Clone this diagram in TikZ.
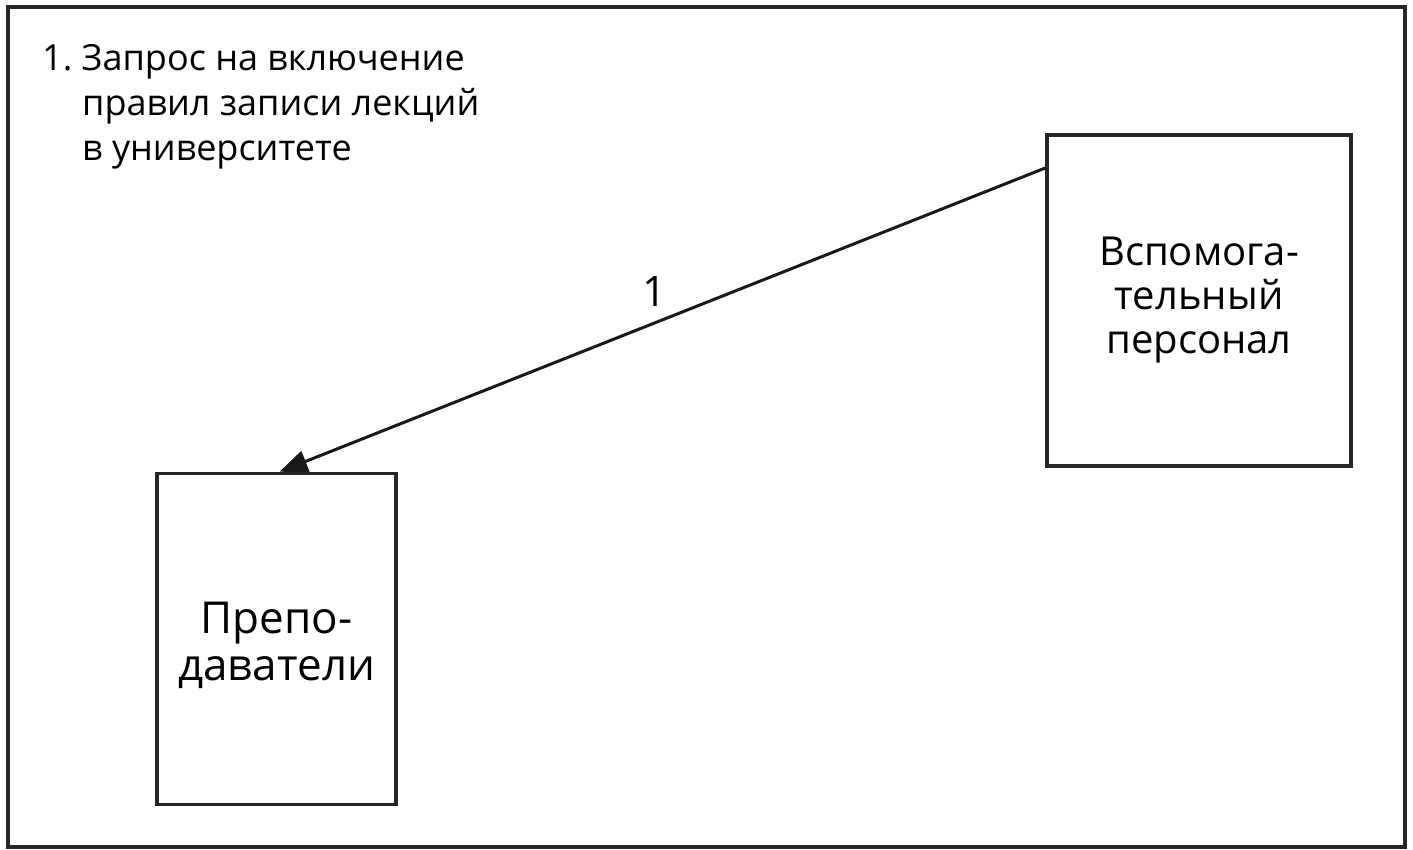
\documentclass[tikz,border=0pt]{standalone}
\usepackage{fontspec}
\setmainfont{Open Sans}
\usetikzlibrary{arrows.meta}
\begin{document}
\begin{tikzpicture}[x=1pt,y=-1pt,
  frame/.style={draw=black!85,line width=4pt},
  entity/.style={draw=black!85,line width=3.5pt,inner sep=0pt,align=center},
  flow/.style={draw=black!90,line width=3pt,-{Triangle[length=28pt,width=22pt]}}]
\useasboundingbox (0,0) rectangle (1413,849);
\draw[frame] (8,7) rectangle (1405,847);
\node[anchor=base west,align=left,font=\fontsize{36}{45}\selectfont,inner sep=0pt] (note) at (42,160)
  {1.\ Запрос на включение\\\hspace{40pt}правил записи лекций\\\hspace{40pt}в университете};
\node[entity,minimum width=304pt,minimum height=331pt,font=\fontsize{40}{44}\selectfont] (staff) at (1199,300.5) {Вспомога-\\тельный\\персонал};
\node[entity,minimum width=239pt,minimum height=331pt] (teach) at (276.5,639) {};
\node[align=center,inner sep=0pt,font=\fontsize{44}{47}\selectfont] (teachtext) at ([yshift=-6pt]teach.center) {Препо-\\даватели};
\coordinate (s) at (1047,168);
\coordinate (tip) at ([xshift=3pt,yshift=0pt]teach.north);
\draw[flow] (staff.west |- s) -- (tip);
\node[anchor=base,font=\fontsize{42}{46}\selectfont,inner sep=0pt] (lbl) at (654,306) {1};
\end{tikzpicture}
\end{document}
